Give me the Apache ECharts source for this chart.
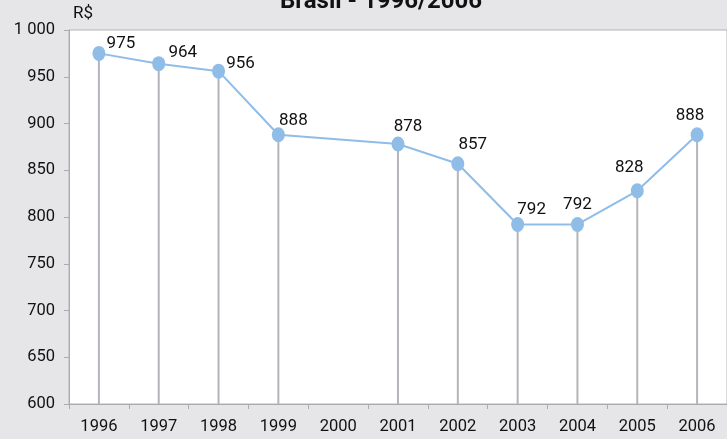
<!DOCTYPE html>
<html>
<head>
<meta charset="utf-8">
<script src="https://cdn.jsdelivr.net/npm/echarts@6/dist/echarts.min.js"></script>
<style>
  html, body { margin: 0; padding: 0; background: #e6e6e8; }
  #chart { width: 727px; height: 439px; }
</style>
</head>
<body>
<div id="chart"></div>
<script>
// anos
var years = ['1996', '1997', '1998', '1999', '2000', '2001', '2002', '2003', '2004', '2005', '2006']
// valores em R$ (2000 sem dado)
var values = [975, 964, 956, 888, null, 878, 857, 792, 792, 828, 888]
// eixo y
var yMin = 600
var yMax = 1000
var yStep = 50

// deslocamento de cada rótulo em relação ao ponto
var labelOffsets = [[22, -10], [24, -11], [22, -7], [15, -14], [0, 0], [10, -17], [15, -19], [14, -15], [0, -20], [-8, -23], [-7, -19]]

var font = 'Roboto'

var chart = echarts.init(document.getElementById('chart'))

var lineData = values.map(function (v, i) {
  return {
    value: v,
    label: { offset: labelOffsets[i] }
  }
})

chart.setOption({
  backgroundColor: '#e6e6e8',
  animation: false,
  title: {
    text: 'Brasil - 1996/2006',
    left: 280,
    top: -10,
    padding: 0,
    textStyle: {
      fontFamily: font,
      fontWeight: 'bold',
      fontSize: 24,
      color: '#111'
    }
  },
  grid: {
    left: 69,
    right: -4,
    top: 30,
    bottom: 35,
    show: true,
    backgroundColor: '#ffffff',
    borderColor: '#b4b4b8',
    borderWidth: 1
  },
  xAxis: {
    type: 'category',
    data: years,
    axisLine: { lineStyle: { color: '#aaaaaf', width: 1 } },
    axisTick: { show: true, length: 5, lineStyle: { color: '#aaaaaf' } },
    axisLabel: {
      margin: 14,
      color: '#111',
      fontFamily: font,
      fontSize: 16.5
    },
    splitLine: { show: false }
  },
  yAxis: {
    type: 'value',
    min: yMin,
    max: yMax,
    interval: yStep,
    name: 'R$',
    nameLocation: 'end',
    nameGap: 8,
    nameTextStyle: {
      align: 'left',
      padding: [0, 0, 0, 4],
      color: '#111',
      fontFamily: font,
      fontSize: 17
    },
    axisLine: { show: true, lineStyle: { color: '#aaaaaf', width: 1 } },
    axisTick: { show: true, length: 5, lineStyle: { color: '#aaaaaf' } },
    axisLabel: {
      margin: 14,
      color: '#111',
      fontFamily: font,
      fontSize: 16.5,
      formatter: function (v) {
        return v >= 1000 ? '1 000' : String(v)
      }
    },
    splitLine: { show: false }
  },
  series: [{
    // linhas verticais até o eixo
    type: 'bar',
    data: values,
    barWidth: 2,
    itemStyle: { color: '#b4b4ba' },
    z: 1
  }, {
    type: 'line',
    data: lineData,
    connectNulls: true,
    symbol: 'circle',
    symbolSize: [13, 15],
    itemStyle: { color: '#8fbde8' },
    lineStyle: { color: '#8fbde8', width: 2 },
    z: 3,
    label: {
      show: true,
      position: 'inside',
      color: '#111',
      fontFamily: font,
      fontSize: 17
    }
  }]
})
</script>
</body>
</html>
